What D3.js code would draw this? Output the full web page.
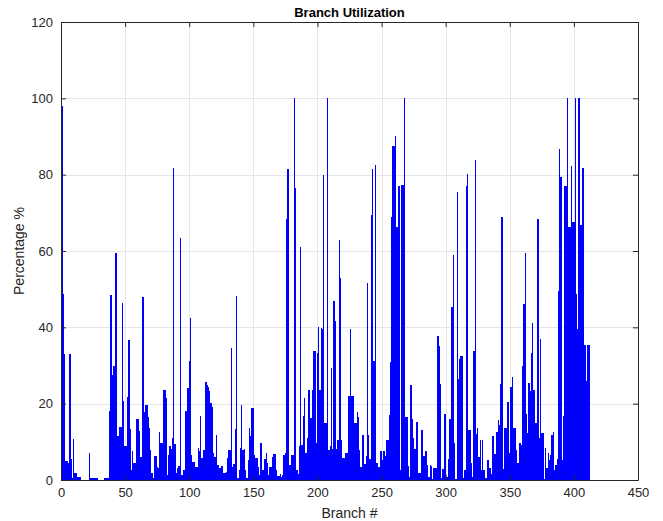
<!DOCTYPE html>
<html>
<head>
<meta charset="utf-8">
<script src="https://cdn.jsdelivr.net/npm/d3@7"></script>
<style>
  html, body { margin: 0; padding: 0; background: #fff; }
  svg { display: block; font-family: "Liberation Sans", Arial, Helvetica, sans-serif; }
</style>
</head>
<body>
<div id="chart"></div>
<script>
// Branch utilization per branch number (1..412)
const utilization = [
  98, 48.7, 33, 5, 5, 4.4, 33, 5.5, 0.6, 10.8,
  1.8, 1.8, 0.7, 0.7, 0.7, 0, 0, 0, 0, 0,
  0, 7.2, 0.4, 0.4, 0.4, 0.4, 0.5, 0.5, 0.1, 0.1,
  0.1, 0.1, 0.1, 0.4, 0.4, 0.6, 0.6, 18, 48.4, 27.6,
  30, 30, 59.6, 11.4, 11.4, 13.9, 13.9, 46.3, 20.8, 8.8,
  8.8, 21.8, 36.6, 13.3, 2.5, 7.5, 4.4, 4.4, 16, 16,
  12.9, 6.1, 6.1, 47.9, 17.7, 19.7, 19.7, 16.6, 13.5, 7.9,
  1.8, 0.4, 6.3, 6.3, 3.5, 3.1, 12.5, 9.8, 9.8, 23.7,
  23.7, 21.5, 1.3, 6.6, 8.8, 8.1, 11, 81.8, 9.4, 1.8,
  3.1, 3.7, 63.4, 1.3, 1.3, 2.5, 18, 18, 24, 31.1,
  42.4, 6.6, 4.6, 4.6, 3.5, 3.5, 8.3, 7.5, 16.7, 5.7,
  7.9, 7.9, 25.6, 25, 24.3, 23.2, 20.2, 19, 7, 6,
  11.8, 3.9, 3.9, 3.1, 3.7, 3.7, 1.9, 1.8, 2.2, 5.7,
  7.9, 7.9, 34.5, 3.5, 4.2, 13.3, 48.2, 0.4, 2.6, 8.3,
  19.7, 7.9, 8.1, 2.6, 0.4, 5.3, 13.6, 11.4, 18.9, 18.9,
  6.6, 5.7, 5.7, 3.5, 1.3, 9.6, 2.6, 2.6, 5.4, 7,
  4.4, 1.3, 3.5, 3.5, 5.9, 6.8, 6.8, 2.6, 1, 1,
  1.6, 0.9, 1.3, 6.6, 7.2, 68.4, 81.4, 3.9, 3.9, 6.6,
  6.6, 100, 76.5, 2.6, 1.6, 9, 61, 9.2, 16.8, 21.5,
  7, 11, 23.7, 23.7, 16.2, 23.7, 33.8, 33.8, 9.6, 33.3,
  40.1, 23.7, 39.9, 39.5, 80, 14.9, 15, 100, 7.9, 8.8,
  29.4, 8.1, 46.9, 41.7, 8.1, 10.5, 63, 52.9, 10.4, 5.7,
  5.7, 7.2, 7.2, 22.1, 22.1, 39.5, 22.1, 22.1, 14.9, 14.9,
  17.7, 16.5, 7.9, 3.5, 11.8, 11.8, 4.2, 6.4, 51.6, 11.8,
  5.5, 69.5, 81.6, 31.1, 82.5, 4.4, 4.4, 3.3, 7.7, 7.7,
  5.3, 7.5, 6.4, 10.5, 10.5, 17.1, 30.9, 69, 87.5, 87.5,
  90.2, 66.4, 76.9, 76.9, 2.6, 77.2, 77.2, 100, 16.4, 16.4,
  3.7, 0.7, 24.8, 16, 11.1, 8.2, 15.2, 15.2, 1.8, 1.8,
  13, 13, 6.3, 7.5, 7.5, 3.8, 0.9, 3.9, 3.7, 0.2,
  3.2, 3.2, 3.2, 37.7, 35.1, 25.1, 0.4, 2.8, 17.4, 17.4,
  0.9, 5.4, 16, 16, 45.2, 58.9, 9.8, 0.2, 75.4, 26.5,
  31.6, 32.6, 32.6, 0.4, 2.6, 77, 80.3, 13, 13, 4.4,
  0.9, 33.9, 83.9, 12, 13.6, 6, 10.5, 2.6, 10.4, 2.6,
  0.4, 0.4, 5.3, 3.1, 3.1, 1.6, 11.4, 6.8, 6.8, 12.7,
  15.8, 14.5, 25.2, 69, 2.8, 13.5, 13.5, 20.4, 20.4, 7.2,
  24.3, 27, 13.6, 13.6, 7.9, 4.4, 4.4, 9.8, 9.2, 29.8,
  46, 59.5, 17.4, 12.3, 25.3, 23.2, 33.3, 41.2, 23.7, 14.9,
  14.9, 68.4, 11, 37, 12.3, 12.3, 0.2, 8.3, 3.1, 7,
  5.3, 6.6, 11.8, 12.5, 2.6, 4, 5.4, 49.6, 86.8, 79.4,
  5.3, 16.7, 77, 77, 100, 66.2, 66.2, 82.3, 67.5, 67.5,
  100, 48.7, 39.5, 100, 66.7, 66.7, 81.8, 35.3, 35.3, 25.9,
  35.3, 35.3
];
const xTicks = [0, 50, 100, 150, 200, 250, 300, 350, 400, 450];
const yTicks = [0, 20, 40, 60, 80, 100, 120];

const width = 663, height = 521;
const margin = { top: 22, right: 25, bottom: 41, left: 61 };
const axisColor = "#262626";

const svg = d3.select("#chart").append("svg")
    .attr("width", width)
    .attr("height", height);

const x = d3.scaleLinear().domain([0, 450]).range([margin.left, width - margin.right]);
const y = d3.scaleLinear().domain([0, 120]).range([height - margin.bottom, margin.top]);

// grid
const grid = svg.append("g").attr("stroke", "#e6e6e6").attr("stroke-width", 1);
grid.selectAll(".gx").data(xTicks.slice(1, -1)).enter().append("line")
    .attr("x1", d => Math.round(x(d)) + 0.5).attr("x2", d => Math.round(x(d)) + 0.5)
    .attr("y1", y(120)).attr("y2", y(0));
grid.selectAll(".gy").data(yTicks.slice(1, -1)).enter().append("line")
    .attr("y1", d => Math.round(y(d)) + 0.5).attr("y2", d => Math.round(y(d)) + 0.5)
    .attr("x1", x(0)).attr("x2", x(450));

// bars - at this density they merge into one solid fill
const barW = x(1) - x(0);
svg.append("g")
    .selectAll("rect")
    .data(utilization)
    .enter().append("rect")
    .attr("x", (d, i) => x(i + 1) - barW / 2)
    .attr("width", barW)
    .attr("y", d => y(d))
    .attr("height", d => y(0) - y(d))
    .attr("fill", "#0000ff")
    .attr("shape-rendering", "crispEdges");

// axes (ticks pointing inward, box on all sides)
const tickLen = 5;
const fmt = d3.format("d");

const xAxis = d3.axisBottom(x).tickValues(xTicks).tickFormat(fmt).tickSizeInner(-tickLen).tickSizeOuter(0).tickPadding(8);
const yAxis = d3.axisLeft(y).tickValues(yTicks).tickFormat(fmt).tickSizeInner(-tickLen).tickSizeOuter(0).tickPadding(8);

svg.append("g").attr("transform", `translate(0,${y(0)})`).call(xAxis);
svg.append("g").attr("transform", `translate(${x(0)},0)`).call(yAxis);
svg.append("g").attr("transform", `translate(0,${y(120)})`)
    .call(d3.axisTop(x).tickValues(xTicks).tickFormat("").tickSizeInner(-tickLen).tickSizeOuter(0));
svg.append("g").attr("transform", `translate(${x(450)},0)`)
    .call(d3.axisRight(y).tickValues(yTicks).tickFormat("").tickSizeInner(-tickLen).tickSizeOuter(0));

svg.selectAll(".domain, .tick line").attr("stroke", axisColor);
svg.selectAll(".tick text")
    .attr("fill", axisColor)
    .attr("font-size", "13px")
    .attr("font-family", "'Liberation Sans', Arial, sans-serif");

// labels
svg.append("text")
    .attr("x", (x(0) + x(450)) / 2)
    .attr("y", 17)
    .attr("text-anchor", "middle")
    .attr("font-size", "13px")
    .attr("font-weight", "bold")
    .attr("fill", "#000")
    .text("Branch Utilization");

svg.append("text")
    .attr("x", (x(0) + x(450)) / 2)
    .attr("y", 518)
    .attr("text-anchor", "middle")
    .attr("font-size", "14px")
    .attr("fill", axisColor)
    .text("Branch #");

svg.append("text")
    .attr("transform", `translate(24,${(y(0) + y(120)) / 2}) rotate(-90)`)
    .attr("text-anchor", "middle")
    .attr("font-size", "14px")
    .attr("fill", axisColor)
    .text("Percentage %");
</script>
</body>
</html>
